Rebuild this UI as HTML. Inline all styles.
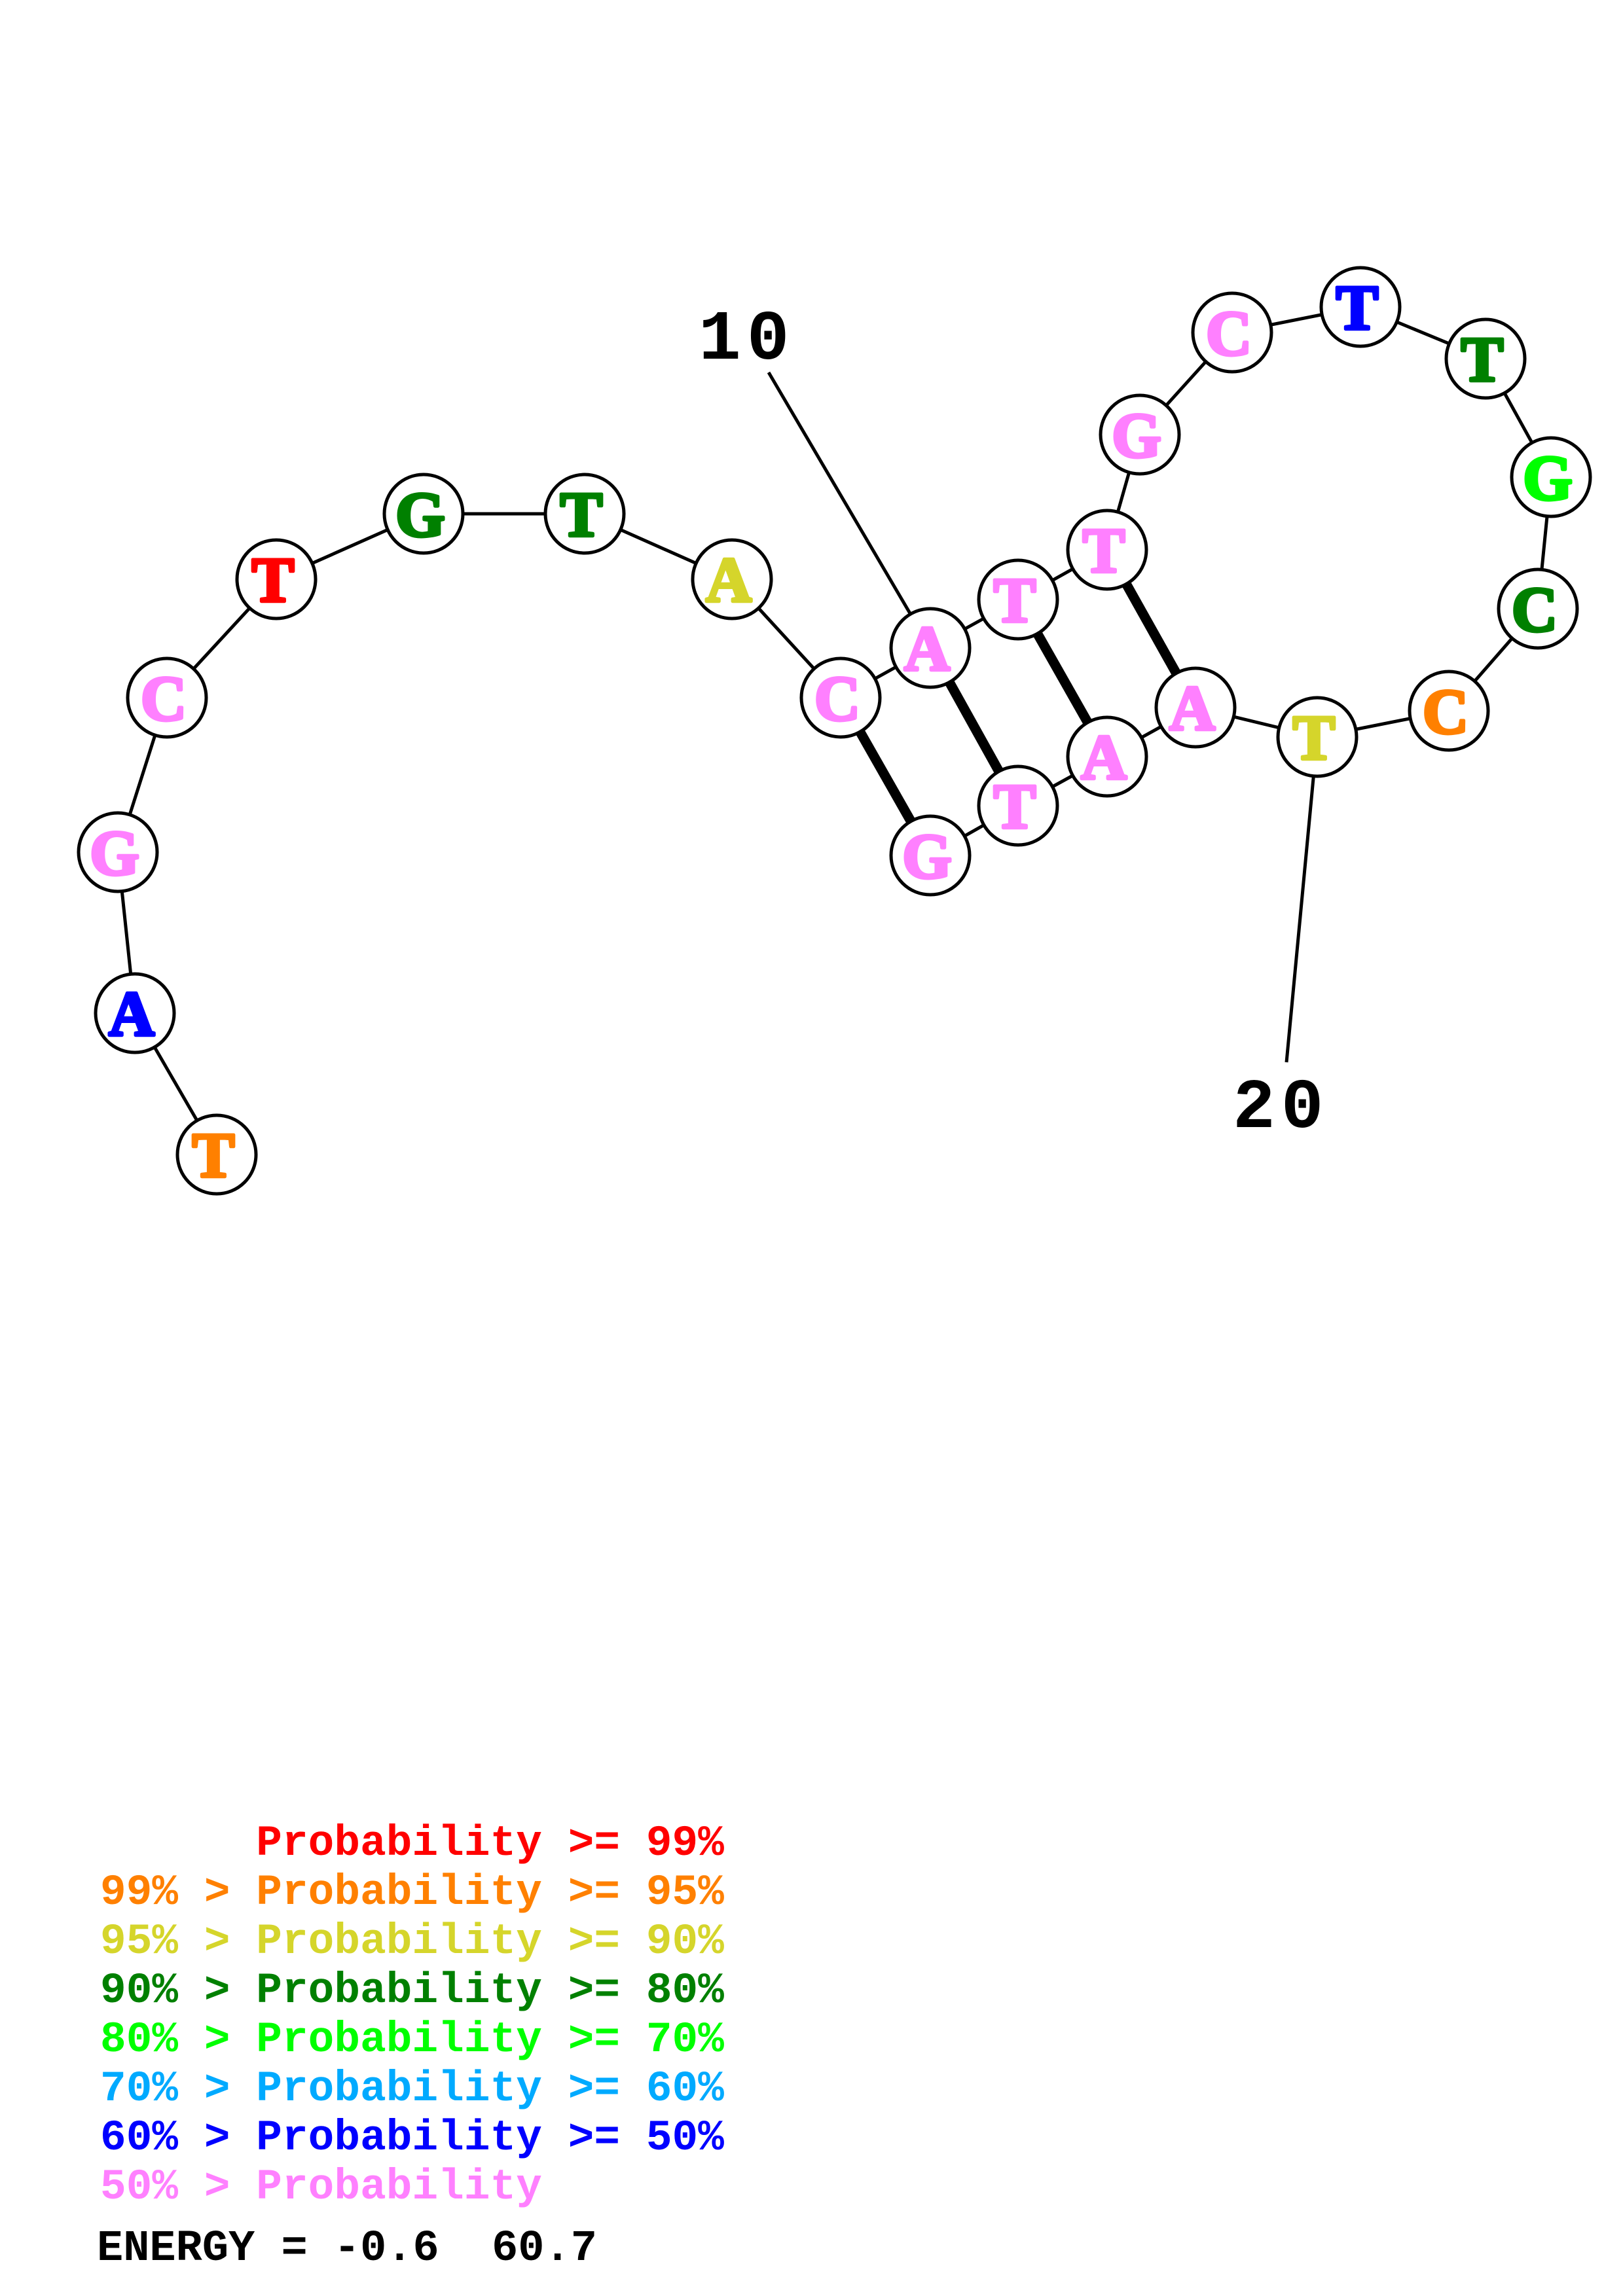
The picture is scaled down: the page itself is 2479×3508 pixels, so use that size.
<!DOCTYPE html>
<html><head><meta charset="utf-8"><style>
html,body{margin:0;padding:0;background:#fff}
svg{display:block}
text{font-family:"Liberation Mono",monospace;font-weight:bold}
.n{font-family:"Liberation Serif",serif;font-size:97px;text-anchor:middle;stroke-width:5px;stroke-linejoin:round}
.l{font-size:66px;white-space:pre;letter-spacing:.1px}
</style></head><body>
<svg xmlns="http://www.w3.org/2000/svg" width="2479" height="3508" viewBox="0 0 2479 3508">
<g stroke="#000" stroke-width="5" fill="none">
<polyline points="331,1764 206,1548 180,1302 255,1066 422,885 647,785 893,785 1118,885 1284,1066 1421,990 1555,916 1691,840 1741,664 1882,508 2078,469 2269,548 2369,729 2349,930 2213,1086 2012,1126 1826,1081 1691,1156 1555,1231 1421,1307"/>
<line x1="1174" y1="569" x2="1421" y2="990"/>
<line x1="2012" y1="1126" x2="1965" y2="1623"/>
</g>
<g stroke="#000" stroke-width="15">
<line x1="1284" y1="1066" x2="1421" y2="1307"/>
<line x1="1421" y1="990" x2="1555" y2="1231"/>
<line x1="1555" y1="916" x2="1691" y2="1156"/>
<line x1="1691" y1="840" x2="1826" y2="1081"/>
</g>
<g fill="#fff" stroke="#000" stroke-width="5">
<circle cx="331" cy="1764" r="60"/><circle cx="206" cy="1548" r="60"/><circle cx="180" cy="1302" r="60"/><circle cx="255" cy="1066" r="60"/><circle cx="422" cy="885" r="60"/><circle cx="647" cy="785" r="60"/><circle cx="893" cy="785" r="60"/><circle cx="1118" cy="885" r="60"/><circle cx="1284" cy="1066" r="60"/><circle cx="1421" cy="990" r="60"/><circle cx="1555" cy="916" r="60"/><circle cx="1691" cy="840" r="60"/><circle cx="1741" cy="664" r="60"/><circle cx="1882" cy="508" r="60"/><circle cx="2078" cy="469" r="60"/><circle cx="2269" cy="548" r="60"/><circle cx="2369" cy="729" r="60"/><circle cx="2349" cy="930" r="60"/><circle cx="2213" cy="1086" r="60"/><circle cx="2012" cy="1126" r="60"/><circle cx="1826" cy="1081" r="60"/><circle cx="1691" cy="1156" r="60"/><circle cx="1555" cy="1231" r="60"/><circle cx="1421" cy="1307" r="60"/>
</g>
<g class="nodes">
<text class="n" x="326" y="1798" fill="#ff8000" stroke="#ff8000">T</text>
<text class="n" x="201" y="1582" fill="#0000ff" stroke="#0000ff">A</text>
<text class="n" x="175" y="1336" fill="#ff80ff" stroke="#ff80ff">G</text>
<text class="n" x="250" y="1100" fill="#ff80ff" stroke="#ff80ff">C</text>
<text class="n" x="417" y="919" fill="#ff0000" stroke="#ff0000">T</text>
<text class="n" x="642" y="819" fill="#008000" stroke="#008000">G</text>
<text class="n" x="888" y="819" fill="#008000" stroke="#008000">T</text>
<text class="n" x="1113" y="919" fill="#d5d52b" stroke="#d5d52b">A</text>
<text class="n" x="1279" y="1100" fill="#ff80ff" stroke="#ff80ff">C</text>
<text class="n" x="1416" y="1024" fill="#ff80ff" stroke="#ff80ff">A</text>
<text class="n" x="1550" y="950" fill="#ff80ff" stroke="#ff80ff">T</text>
<text class="n" x="1686" y="874" fill="#ff80ff" stroke="#ff80ff">T</text>
<text class="n" x="1736" y="698" fill="#ff80ff" stroke="#ff80ff">G</text>
<text class="n" x="1877" y="542" fill="#ff80ff" stroke="#ff80ff">C</text>
<text class="n" x="2073" y="503" fill="#0000ff" stroke="#0000ff">T</text>
<text class="n" x="2264" y="582" fill="#008000" stroke="#008000">T</text>
<text class="n" x="2364" y="763" fill="#00ff00" stroke="#00ff00">G</text>
<text class="n" x="2344" y="964" fill="#008000" stroke="#008000">C</text>
<text class="n" x="2208" y="1120" fill="#ff8000" stroke="#ff8000">C</text>
<text class="n" x="2007" y="1160" fill="#d5d52b" stroke="#d5d52b">T</text>
<text class="n" x="1821" y="1115" fill="#ff80ff" stroke="#ff80ff">A</text>
<text class="n" x="1686" y="1190" fill="#ff80ff" stroke="#ff80ff">A</text>
<text class="n" x="1550" y="1265" fill="#ff80ff" stroke="#ff80ff">T</text>
<text class="n" x="1416" y="1341" fill="#ff80ff" stroke="#ff80ff">G</text>
</g>
<text x="1067" y="548" font-size="108" letter-spacing="9" fill="#000">10</text>
<text x="1883" y="1722" font-size="108" letter-spacing="9" fill="#000">20</text>
<g class="legend">
<text class="l" x="153" y="2834" fill="#ff0000" xml:space="preserve">      Probability &gt;= 99%</text>
<text class="l" x="153" y="2909" fill="#ff8000" xml:space="preserve">99% &gt; Probability &gt;= 95%</text>
<text class="l" x="153" y="2984" fill="#d5d52b" xml:space="preserve">95% &gt; Probability &gt;= 90%</text>
<text class="l" x="153" y="3059" fill="#008000" xml:space="preserve">90% &gt; Probability &gt;= 80%</text>
<text class="l" x="153" y="3134" fill="#00ff00" xml:space="preserve">80% &gt; Probability &gt;= 70%</text>
<text class="l" x="153" y="3209" fill="#00aaff" xml:space="preserve">70% &gt; Probability &gt;= 60%</text>
<text class="l" x="153" y="3284" fill="#0000ff" xml:space="preserve">60% &gt; Probability &gt;= 50%</text>
<text class="l" x="153" y="3359" fill="#ff80ff" xml:space="preserve">50% &gt; Probability</text>
<text x="148" y="3453" font-size="67" fill="#000" xml:space="preserve">ENERGY = -0.6  60.7</text>
</g>
</svg>
</body></html>
